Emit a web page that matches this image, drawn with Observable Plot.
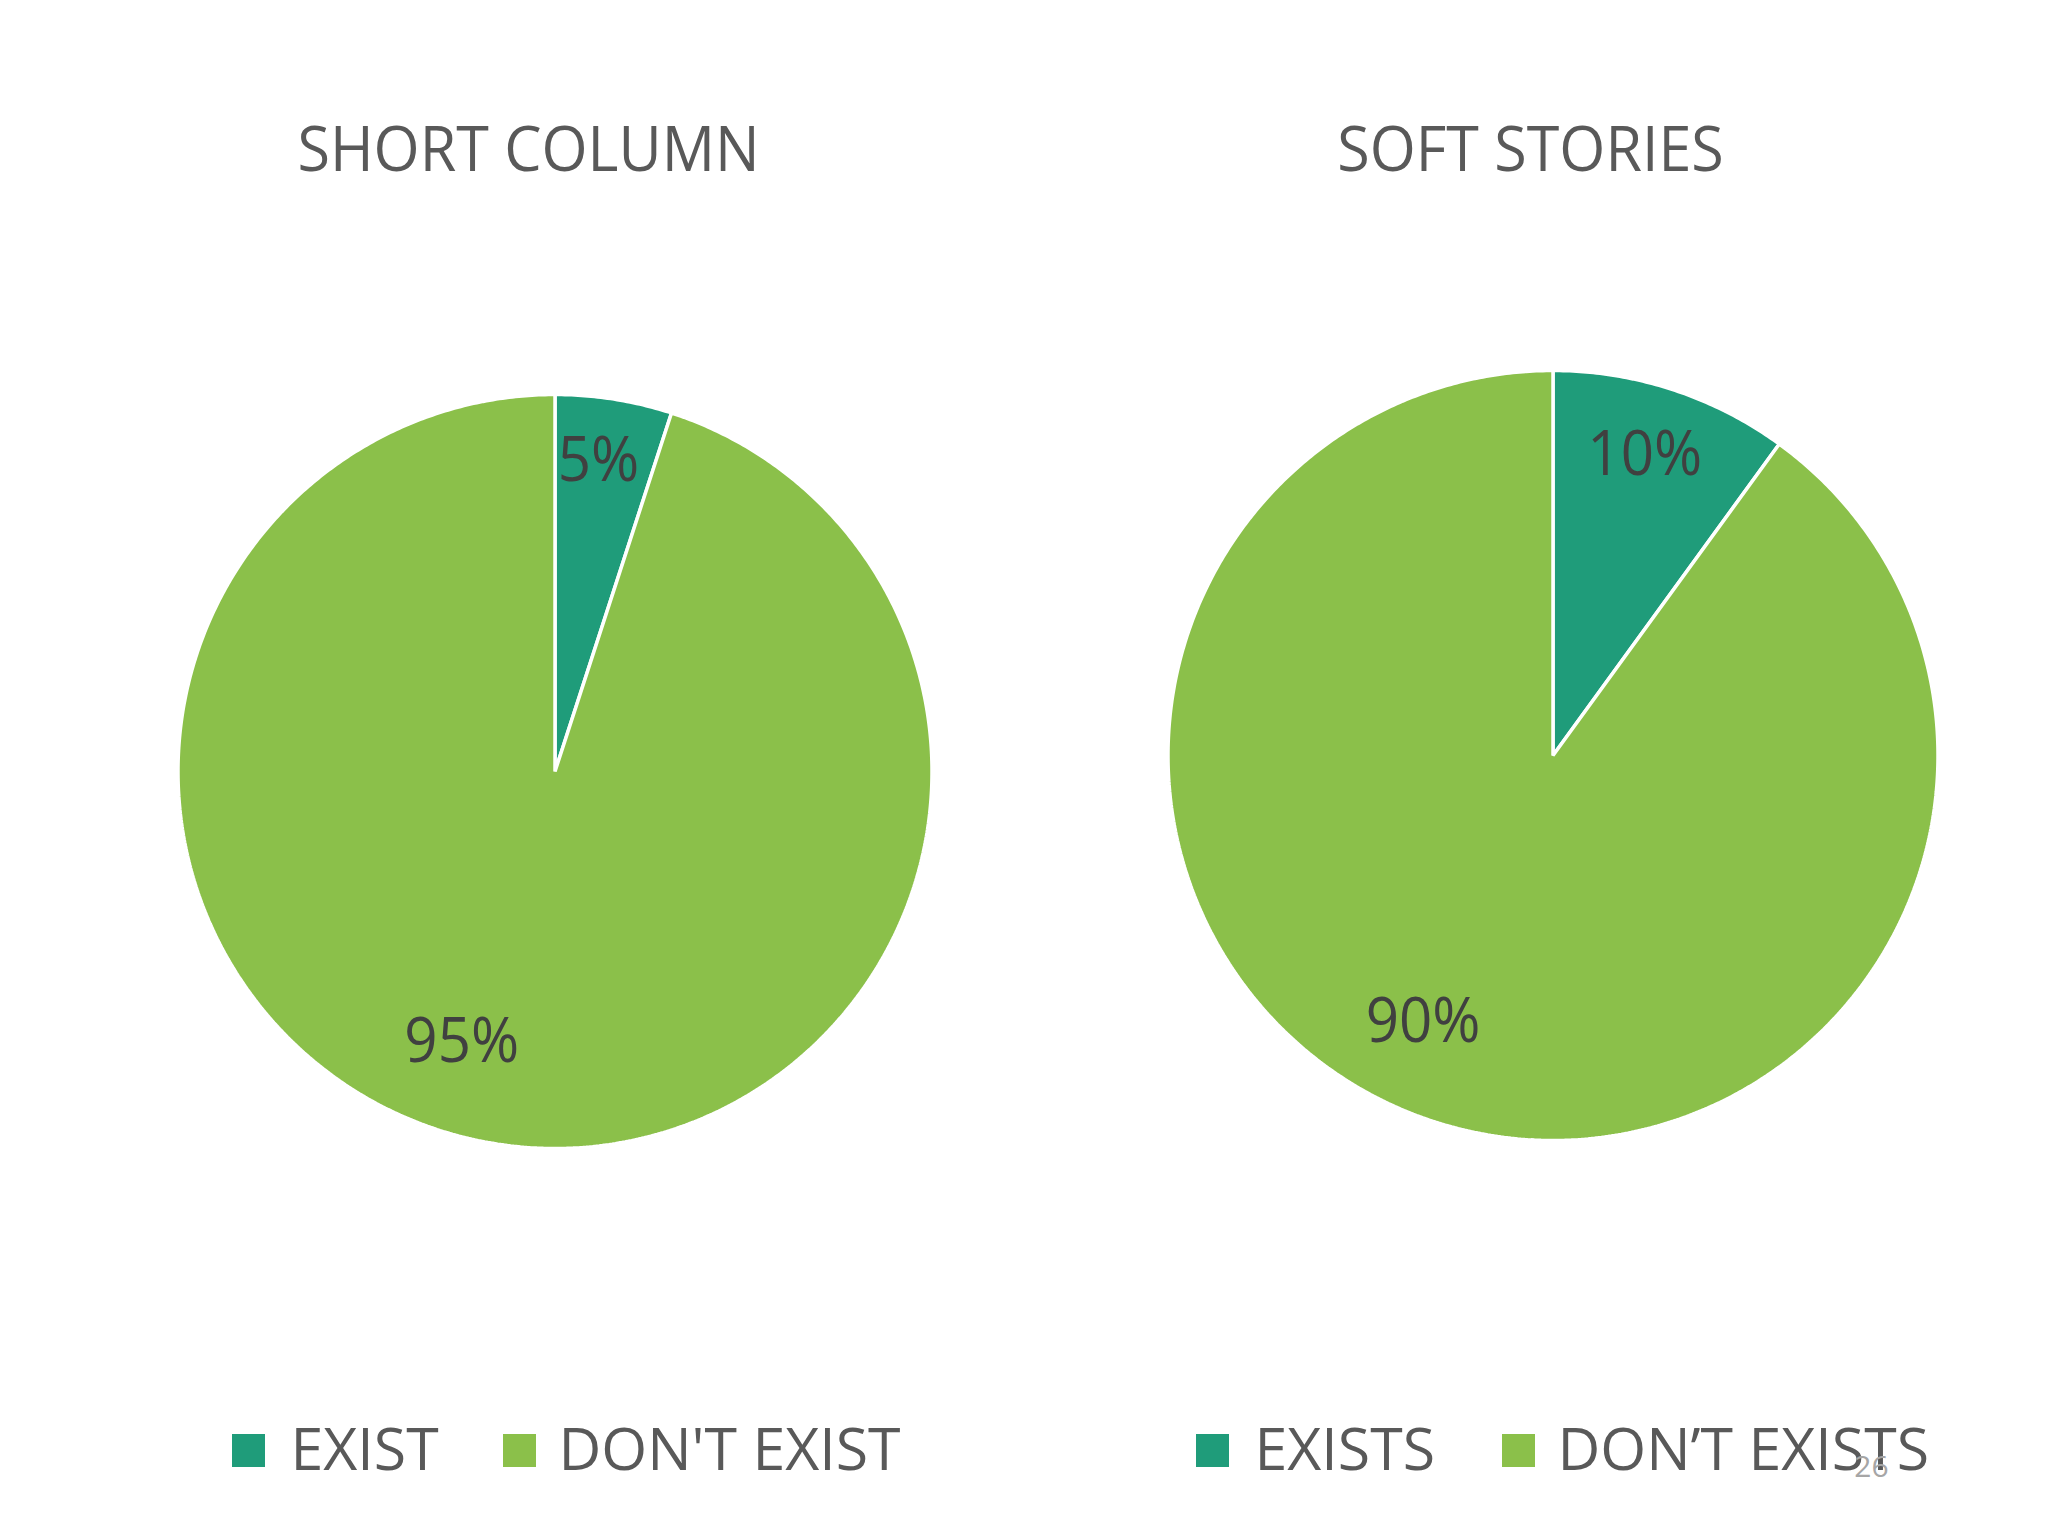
<!DOCTYPE html>
<html><head><meta charset="utf-8">
<script src="https://cdn.jsdelivr.net/npm/d3@7"></script>
<script src="https://cdn.jsdelivr.net/npm/@observablehq/plot@0.6"></script>
<style>html,body{margin:0;padding:0;background:#fff;}</style>
</head><body><div id="chart"></div>
<script>
// ---- data ----
const chartTitles = ["SHORT COLUMN", "SOFT STORIES"];
const categoriesShort = ["EXIST", "DON'T EXIST"];
const valuesShort = [5, 95];
const categoriesSoft = ["EXISTS", "DON’T EXISTS"];
const valuesSoft = [10, 90];
const pageNumber = "26";

// ---- style / layout ----
const sliceColors = ["#1f9c7a", "#8bc04a"];
const W = 2048, H = 1536;
const FONT = "Open Sans";
const layout = [
  {cx: 554.5, cy: 771, r: 377, titleX: 528, legendSq: [232, 503], legendTx: [290, 558], labelPos: [[8, 0.83], [199, 0.76]]},
  {cx: 1552.5, cy: 755, r: 385, titleX: 1530, legendSq: [1196, 1502], legendTx: [1254, 1557], labelPos: [[17, 0.815], [206, 0.77]]}
];
const pies = [
  {title: chartTitles[0], cats: categoriesShort, vals: valuesShort},
  {title: chartTitles[1], cats: categoriesSoft, vals: valuesSoft}
];

const slicePts = [], labels = [], titles = [], legendSq = [], legendTxt = [];
pies.forEach((p, pi) => {
  const L = layout[pi];
  const arcs = d3.pie().sort(null)(p.vals);
  arcs.forEach((a, i) => {
    const key = pi + "-" + i;
    slicePts.push({key, color: sliceColors[i], x: L.cx, y: L.cy});
    const n = Math.max(2, Math.ceil((a.endAngle - a.startAngle) / (Math.PI / 360)));
    for (let k = 0; k <= n; k++) {
      const t = a.startAngle + (a.endAngle - a.startAngle) * k / n;
      slicePts.push({key, color: sliceColors[i], x: L.cx + L.r * Math.sin(t), y: L.cy - L.r * Math.cos(t)});
    }
    const totalV = d3.sum(p.vals);
    const [ang, fr] = L.labelPos[i];
    const th = ang * Math.PI / 180;
    labels.push({x: L.cx + fr * L.r * Math.sin(th), y: L.cy - fr * L.r * Math.cos(th), text: Math.round(a.value / totalV * 100) + "%"});
    legendSq.push({x1: L.legendSq[i], x2: L.legendSq[i] + 33, y1: 1434, y2: 1467, color: sliceColors[i]});
    legendTxt.push({x: L.legendTx[i], y: 1451, text: p.cats[i]});
  });
  titles.push({x: L.titleX, y: 150, text: p.title});
});

const plot = Plot.plot({
  width: W, height: H,
  margin: 0,
  x: {domain: [0, W], range: [0, W], axis: null},
  y: {domain: [0, H], range: [0, H], axis: null},
  style: {background: "#ffffff", fontFamily: FONT},
  marks: [
    Plot.line(slicePts, {x: "x", y: "y", z: "key", fill: "color", stroke: "#ffffff", strokeWidth: 3.5, strokeLinejoin: "miter", curve: "linear-closed"}),
    Plot.text(labels, {x: "x", y: "y", text: "text", fontSize: 62, fill: "#404040", fontFamily: FONT, className: "pct-label"}),
    Plot.text(titles, {x: "x", y: "y", text: "text", fontSize: 63, fill: "#595959", fontFamily: FONT, className: "pie-title"}),
    Plot.rect(legendSq, {x1: "x1", x2: "x2", y1: "y1", y2: "y2", fill: "color"}),
    Plot.text(legendTxt, {x: "x", y: "y", text: "text", textAnchor: "start", fontSize: 59, fill: "#595959", fontFamily: FONT}),
    Plot.text([pageNumber], {x: () => 1871, y: () => 1467, text: d => d, fontSize: 30, fill: "#a6a6a6", fontFamily: FONT})
  ]
});
document.getElementById("chart").appendChild(plot);
// Narrow the title glyphs slightly to match the condensed reference face
plot.querySelectorAll(".pie-title text, .pct-label text").forEach(el => {
  const len = el.getComputedTextLength();
  el.setAttribute("textLength", (len * 0.94).toFixed(1));
  el.setAttribute("lengthAdjust", "spacingAndGlyphs");
});
</script>
</body></html>
